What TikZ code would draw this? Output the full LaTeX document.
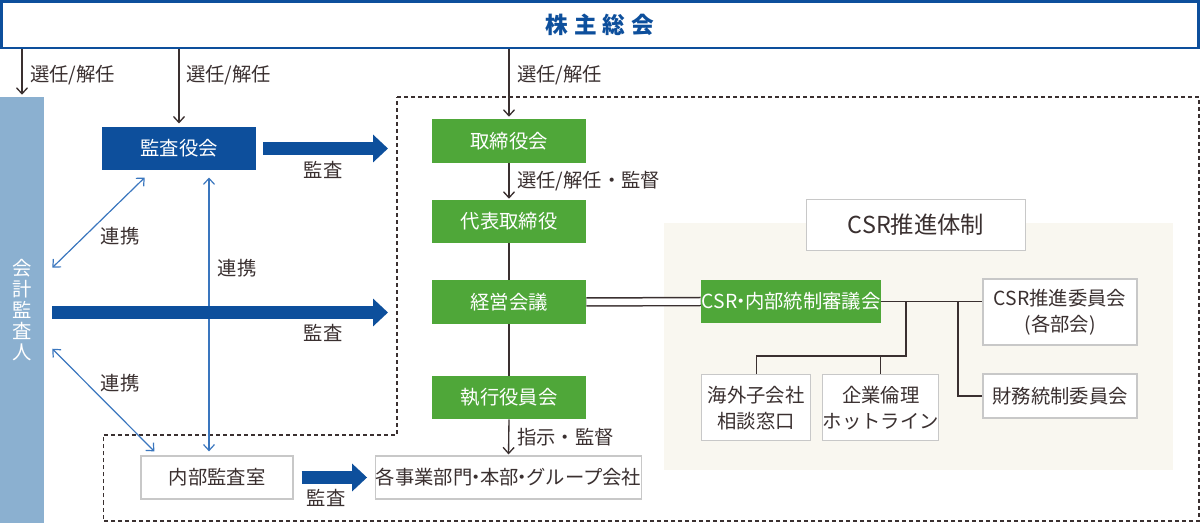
\documentclass[tikz,border=0pt]{standalone}
\usepackage{fontspec}
\setmainfont{Noto Sans CJK JP}
\usetikzlibrary{arrows.meta}
\definecolor{navy}{HTML}{0D4F9C}
\definecolor{grn}{HTML}{4FA739}
\definecolor{lblue}{HTML}{8BB0D0}
\definecolor{ablue}{HTML}{3A76BE}
\definecolor{txt}{HTML}{3A3030}
\definecolor{cream}{HTML}{F9F7F0}
\definecolor{gborder}{HTML}{C8C8C8}
\newcommand\myfs{\fontsize{14.5pt}{19.5pt}\selectfont}
\newcommand\mydot{\kern-0.3em・\kern-0.3em}
\begin{document}
\begin{tikzpicture}[x=0.75pt,y=-0.75pt,
  wbox/.style={draw=gborder, line width=0.9pt, fill=white, text=txt, inner sep=0pt, font=\myfs, align=center},
  gbox/.style={fill=grn, text=white, inner sep=0pt, font=\myfs},
  lbl/.style={text=txt, font=\myfs, inner sep=0pt},
  conn/.style={draw=txt, line width=1pt},
  arr/.style={conn, -{Straight Barb[length=4.5pt,width=8.25pt]}},
  dbl/.style={draw=ablue, line width=0.9pt, {Straight Barb[length=4.5pt,width=8.25pt]}-{Straight Barb[length=4.5pt,width=8.25pt]}},
  big/.style={draw=navy, line width=9.75pt, -{Triangle[length=11.25pt,width=20.25pt]}},
  dash box/.style={draw=txt, line width=0.9pt, dash pattern=on 3pt off 2.25pt}
]
\useasboundingbox (0,0) rectangle (1200,523);

% background of CSR area
\node[fill=cream, inner sep=0pt, minimum width=381.75pt, minimum height=185.25pt] (csrbg) at (918.5,346.5) {};

% dashed area
\coordinate (dl) at (397,97);
\draw[dash box] (dl) -- (1199,97) -- (1199,521) -- (103.5,521) -- (103.5,435) -- (397,435) -- cycle;

% top box
\node[draw=navy, line width=1.875pt, fill=white, inner sep=0pt, minimum width=897.75pt, minimum height=34.875pt,
      text=navy, font=\fontsize{17pt}{19pt}\selectfont\bfseries] (soukai) at (600,25) {株\kern4.5pt主\kern4.5pt総\kern4.5pt会};

% accounting auditor bar
\node[fill=lblue, inner sep=0pt, minimum width=33pt, minimum height=319.5pt, text=white, align=center,
      font=\fontsize{14.5pt}{15.75pt}\selectfont] (kaikei) at (22,310) {会\\計\\監\\査\\人};

% boxes
\node[fill=navy, text=white, inner sep=0pt, font=\myfs, minimum width=115.5pt, minimum height=32.625pt] (kansayaku) at (179,148.5) {監査役会};
\node[gbox, minimum width=115.5pt, minimum height=33pt] (tori) at (509,141) {取締役会};
\node[gbox, minimum width=115.5pt, minimum height=32.25pt] (daihyo) at (509,221.5) {代表取締役};
\node[gbox, minimum width=115.5pt, minimum height=33pt] (keiei) at (509,302) {経営会議};
\node[gbox, minimum width=115.5pt, minimum height=32.25pt] (shikko) at (509,397.5) {執行役員会};
\node[wbox, minimum width=197.25pt, minimum height=32.25pt] (jigyo) at (508.5,477.5) {各事業部門\mydot 本部\mydot グループ会社};
\node[wbox, minimum width=114pt, minimum height=32.25pt] (naibu) at (217,477.5) {内部監査室};

\node[wbox, minimum width=164.25pt, minimum height=38.625pt, font=\fontsize{17.5pt}{20pt}\selectfont] (taisei) at (916,225) {CSR推進体制};
\node[gbox, minimum width=135pt, minimum height=32.25pt] (shingi) at (791,301.5) {CSR\mydot 内部統制審議会};
\node[wbox, minimum width=81.75pt, minimum height=49.5pt] (kaigai) at (756.2,407.8) {海外子会社\\相談窓口};
\node[wbox, minimum width=82.5pt, minimum height=49.5pt] (rinri) at (880.7,407.8) {企業倫理\\ホットライン};
\node[wbox, minimum width=115.5pt, minimum height=49.5pt] (suishin) at (1060,312) {CSR推進委員会\\(各部会)};
\node[wbox, minimum width=115.5pt, minimum height=33pt] (zaimu) at (1060,396) {財務統制委員会};

% labels
\node[lbl, anchor=west] (l1) at (30,75) {選任/解任};
\node[lbl, anchor=west] (l2) at (186,75) {選任/解任};
\node[lbl, anchor=west] (l3) at (517,75) {選任/解任};
\node[lbl, anchor=west] (l4) at (517,181) {選任/解任・監督};
\node[lbl, anchor=west] (l5) at (517,437) {指示・監督};
\node[lbl] (k1) at (323,170) {監査};
\node[lbl] (k2) at (323,333) {監査};
\node[lbl] (k3) at (326,498) {監査};
\node[lbl] (r1) at (120,236) {連携};
\node[lbl] (r2) at (237,268) {連携};
\node[lbl] (r3) at (120,383) {連携};

% connectors from top
\draw[arr, shorten >=1.5pt] (soukai.south -| kaikei.north) -- (kaikei.north);
\draw[arr, shorten >=2.25pt] (soukai.south -| kansayaku.north) -- (kansayaku.north);
\draw[arr, shorten >=1.5pt] (soukai.south -| tori.north) -- (tori.north);

% management chain
\draw[arr, shorten >=0.75pt] (tori.south) -- (daihyo.north);
\draw[conn] (daihyo.south) -- (keiei.north);
\draw[conn] (keiei.south) -- (shikko.north);
\draw[arr, shorten >=0.75pt] (shikko.south) -- (jigyo.north);

% CSR connections
\draw[draw=txt, line width=1.125pt, double=white, double distance=4.875pt] (keiei.east) -- (shingi.west);
\draw[conn] (shingi.east) -- (shingi.east -| suishin.west);
\coordinate (j1) at (906,302);
\coordinate (j2) at (906,356);
\coordinate (j3) at (958,302);
\draw[conn] (j1) -- (j2) -| (kaigai.north);
\draw[conn] (j2 -| rinri.north) -- (rinri.north);
\draw[conn] (j3) |- (zaimu.west);

% cooperation arrows
\draw[dbl] ([shift={(8,171)}]kaikei.north east) -- ([shift={(43,7)}]kansayaku.south west);
\draw[dbl] ([shift={(30,7)}]kansayaku.south) -- ([shift={(-8,-4)}]naibu.north);
\draw[dbl] ([shift={(8,252)}]kaikei.north east) -- ([shift={(14,-4)}]naibu.north west);

% audit arrows
\draw[big] ([shift={(7,0)}]kansayaku.east) -- ([shift={(-9,0)}]dl |- kansayaku.east);
\draw[big] ([shift={(8,2.5)}]kaikei.east) -- ([shift={(-9,2.5)}]dl |- kaikei.east);
\draw[big] ([shift={(8,0)}]naibu.east) -- ([shift={(-8,0)}]jigyo.west);
\end{tikzpicture}
\end{document}
